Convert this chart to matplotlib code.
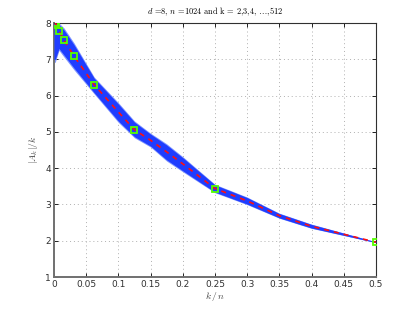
import numpy as np
import matplotlib
matplotlib.use("Agg")
import matplotlib.pyplot as plt

plt.rcParams['mathtext.fontset'] = 'cm'

# mean curve (red dashed)
kn = [0.00195, 0.0039, 0.0078, 0.0156, 0.03125, 0.0625, 0.1, 0.125, 0.15,
      0.175, 0.2, 0.25, 0.3, 0.35, 0.4, 0.45, 0.5]
mean_val = [8.0, 7.94, 7.78, 7.53, 7.09, 6.30, 5.55, 5.06, 4.77,
            4.45, 4.12, 3.44, 3.10, 2.69, 2.40, 2.18, 1.96]

# spread of the individual runs (blue band)
band_x = [0.0, 0.002, 0.0078, 0.0156, 0.03125, 0.0625, 0.1, 0.125, 0.15,
          0.175, 0.2, 0.25, 0.3, 0.35, 0.4, 0.45, 0.5]
band_hi = [8.0, 8.0, 7.95, 7.81, 7.40, 6.48, 5.77, 5.27, 4.94,
           4.64, 4.29, 3.54, 3.19, 2.75, 2.45, 2.21, 1.97]
band_lo = [7.0, 7.0, 7.3, 7.12, 6.76, 6.08, 5.30, 4.87, 4.61,
           4.23, 3.93, 3.34, 3.01, 2.63, 2.35, 2.15, 1.95]

# green square markers at k = 2,4,8,...,512
sq_x = [2/1024, 4/1024, 8/1024, 16/1024, 32/1024, 64/1024, 128/1024, 256/1024, 512/1024]
sq_y = [8.0, 7.94, 7.78, 7.53, 7.09, 6.30, 5.06, 3.44, 1.96]

xticks = [0, 0.05, 0.1, 0.15, 0.2, 0.25, 0.3, 0.35, 0.4, 0.45, 0.5]
xticklabels = ['0', '0.05', '0.1', '0.15', '0.2', '0.25', '0.3', '0.35', '0.4', '0.45', '0.5']
yticks = [1, 2, 3, 4, 5, 6, 7, 8]

fig = plt.figure(figsize=(4.15, 3.12), dpi=100)
ax = fig.add_axes([0.13, 0.112, 0.776, 0.814])

lo = np.array(band_lo)
hi = np.array(band_hi)
pad = (hi - lo) * 0.08
ax.fill_between(band_x, lo - pad, hi + pad, color='#7f95ff', lw=0, zorder=2)
ax.fill_between(band_x, lo, hi, color='#1f3dff', lw=0, zorder=3)

ax.plot(kn, mean_val, '--', color='#ff1010', lw=1.2, dashes=(3, 3), zorder=4)
ax.plot(sq_x, sq_y, 's', mfc='none', mec='#55ff00', ms=5, mew=1.3, zorder=5)

ax.set_xlim(0, 0.5)
ax.set_ylim(1, 8)
ax.set_xticks(xticks)
ax.set_xticklabels(xticklabels)
ax.set_yticks(yticks)
ax.tick_params(direction='in', length=3, labelsize=6.5, width=0.6, pad=2,
               top=True, right=True, labelcolor='#303030')
ax.grid(True, linestyle=(0, (1, 3)), color='#b0b0b0', lw=0.7)
for s in ['left', 'bottom']:
    ax.spines[s].set_color('#707070')
    ax.spines[s].set_linewidth(1.4)
for s in ['top', 'right']:
    ax.spines[s].set_color('#303030')
    ax.spines[s].set_linewidth(0.8)

ax.set_title(r'$d$ =8, $n$ =1024 and k = 2,3,4, $\ldots$,512', fontsize=6,
             family='cmr10', pad=6)
ax.set_xlabel(r'$k\,/\,n$', fontsize=7, labelpad=1, color='#404040')
ax.set_ylabel(r'$|A_k|/k$', fontsize=7, labelpad=4, color='#404040')

fig.savefig('out.png', dpi=100)
